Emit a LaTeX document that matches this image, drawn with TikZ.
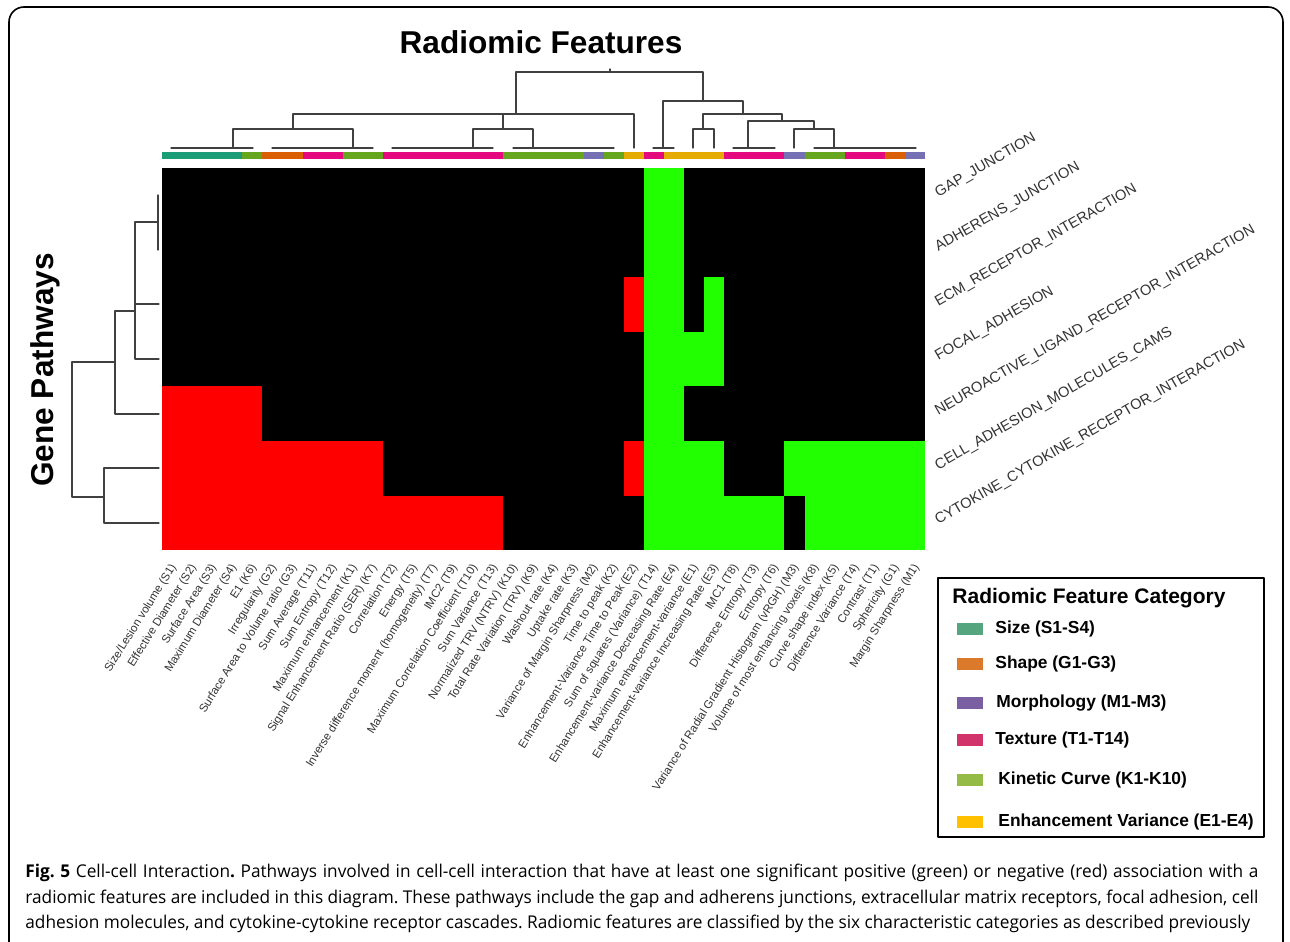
\documentclass[tikz,border=0pt]{standalone}
\usepackage{fontspec}
\setmainfont{Liberation Sans}
\newfontfamily\capfont[FakeStretch=0.98]{Open Sans}
\definecolor{hmred}{RGB}{255,0,0}
\definecolor{hmgreen}{RGB}{34,255,0}
\definecolor{cSize}{HTML}{1B9E77}
\definecolor{cShape}{HTML}{D95F02}
\definecolor{cMorph}{HTML}{7570B3}
\definecolor{cTex}{HTML}{E4097F}
\definecolor{cKin}{HTML}{66A61E}
\definecolor{cEnh}{HTML}{E6AB02}
\definecolor{lSize}{HTML}{55A67F}
\definecolor{lShape}{HTML}{DC7A2C}
\definecolor{lMorph}{HTML}{7A5FA3}
\definecolor{lTex}{HTML}{D1346B}
\definecolor{lKin}{HTML}{93BB45}
\definecolor{lEnh}{HTML}{FFC000}
\definecolor{labgray}{HTML}{333333}
\frenchspacing
\begin{document}
\begin{tikzpicture}[x=0.5pt,y=-0.5pt,line join=round,line cap=round,
	dend/.style={line width=0.6pt,black!75},
	blab/.style={rotate=58,anchor=east,inner sep=0pt,text=labgray,font=\fontsize{5.75}{6}\selectfont},
	rlab/.style={rotate=30,anchor=base west,inner sep=0pt,text=labgray,font=\fontsize{7.35}{8}\selectfont},
	bigtitle/.style={font=\fontsize{15.8}{18}\selectfont\bfseries},
	legitem/.style={anchor=west,inner sep=0pt,font=\fontsize{8.7}{10}\selectfont\bfseries},
	capline/.style={anchor=base west,inner sep=0pt,font=\capfont\fontsize{8.8}{10}\selectfont}]
	\useasboundingbox (0,0) rectangle (1290,942);
	\fill[white] (0,0) rectangle (1290,942);
	%Khung
	\draw[line width=0.8pt,rounded corners=7.5pt] (9,942)--(9,7)--(1283,7)--(1283,942);
	%Bản đồ nhiệt
	\begin{scope}[shift={(162,168)},xscale=20.08,yscale=54.6]
		\fill[black] (0,0) rectangle (38,7);
		\foreach \a/\b/\c/\d in {0/4/5/5,0/5/11/6,0/6/17/7,23/2/24/3,23/5/24/6}
		\fill[hmred] (\a,\b) rectangle (\c,\d);
		\foreach \a/\b/\c/\d in {24/0/26/7,27/2/28/4,26/3/27/4,26/5/28/6,26/6/31/7,31/5/38/6,32/6/38/7}
		\fill[hmgreen] (\a,\b) rectangle (\c,\d);
		\foreach \a/\c/\col in {0/4/cSize,4/5/cKin,5/7/cShape,7/9/cTex,9/11/cKin,11/17/cTex,17/21/cKin,21/22/cMorph,22/23/cKin,23/24/cEnh,24/25/cTex,25/28/cEnh,28/31/cTex,31/32/cMorph,32/34/cKin,34/36/cTex,36/37/cShape,37/38/cMorph}
		\fill[\col] (\a,-0.293) rectangle (\c,-0.165);
	\end{scope}
	%Cây phía trên
	\draw[dend] (171,148)--(253,148) (272,148)--(373,148) (392,148)--(493,148) (513,148)--(614,148)
	(233,148)--(233,129)--(353,129)--(353,148)
	(473,148)--(473,129)--(533,129)--(533,148)
	(293,129)--(293,114)--(634,114)--(634,148)
	(503,129)--(503,114)
	(516,114)--(516,72)--(703,72)--(703,101)
	(610,72)--(610,69)
	(653,148)--(674,148) (663,148)--(663,101)--(743,101)--(743,114)
	(703,129)--(703,114)--(782,114)--(782,121)
	(693,148)--(693,129)--(714,129)--(714,148)
	(748,148)--(748,121)--(814,121)--(814,129)
	(733,148)--(775,148)
	(794,148)--(794,129)--(834,129)--(834,148)
	(814,148)--(916,148);
	%Cây bên trái
	\draw[dend] (158,195)--(158,250) (158,222)--(135,222)--(135,359)--(159,359)
	(135,304)--(159,304)
	(135,311)--(115,311)--(115,414)--(159,414)
	(115,362)--(72,362)--(72,497)--(104,497)
	(159,468)--(104,468)--(104,523)--(159,523);
	%Tiêu đề
	\node[bigtitle] (ttop) at (541,42) {Radiomic Features};
	\node[bigtitle,rotate=90] (tleft) at (45,370) {Gene Pathways};
	%Nhãn cột
	\foreach \t [count=\i] in {{Size/Lesion volume (S1)},{Effective Diameter (S2)},{Surface Area (S3)},{Maximum Diameter (S4)},{E1 (K6)},{Irregularity (G2)},{Surface Area to Volume ratio (G3)},{Sum Average (T11)},{Sum Entropy (T12)},{Maximum enhancement (K1)},{Signal Enhancement Ratio (SER) (K7)},{Correlation (T2)},{Energy (T5)},{Inverse difference moment (homogeneity) (T7)},{IMC2 (T9)},{Maximum Correlation Coefficient (T10)},{Sum Variance (T13)},{Normalized TRV (NTRV) (K10)},{Total Rate Variation (TRV) (K9)},{Washout rate (K4)},{Uptake rate (K3)},{Variance of Margin Sharpness (M2)},{Time to peak (K2)},{Enhancement-Variance Time to Peak (E2)},{Sum of squares (Variance) (T14)},{Enhancement-variance Decreasing Rate (E4)},{Maximum enhancement-variance (E1)},{Enhancement-variance Increasing Rate (E3)},{IMC1 (T8)},{Difference Entropy (T3)},{Entropy (T6)},{Variance of Radial Gradient Histogram (vRGH) (M3)},{Volume of most enhancing voxels (K8)},{Curve shape index (K5)},{Difference Variance (T4)},{Contrast (T1)},{Sphericity (G1)},{Margin Sharpness (M1)}}
	\node[blab] (b\i) at ({162+20.08*(\i-0.5)+2},565) {\t};
	%Nhãn hàng
	\foreach \t [count=\i] in {GAP\_JUNCTION,ADHERENS\_JUNCTION,ECM\_RECEPTOR\_INTERACTION,FOCAL\_ADHESION,NEUROACTIVE\_LIGAND\_RECEPTOR\_INTERACTION,CELL\_ADHESION\_MOLECULES\_CAMS,CYTOKINE\_CYTOKINE\_RECEPTOR\_INTERACTION}
	\node[rlab] (r\i) at (938,{168+54.6*(\i-0.5)+2}) {\t};
	%Chú giải
	\draw[line width=1.1pt] (938,578) rectangle (1264,837);
	\node[anchor=west,inner sep=0pt,font=\fontsize{10.5}{12}\selectfont\bfseries] (legtitle) at (952,598) {Radiomic Feature Category};
	\foreach \c/\t/\y/\tx [count=\i] in {lSize/Size (S1-S4)/629/995,lShape/Shape (G1-G3)/664/995,lMorph/Morphology (M1-M3)/703/996,lTex/Texture (T1-T14)/740/995,lKin/Kinetic Curve (K1-K10)/780/998,lEnh/Enhancement Variance (E1-E4)/822/998}{
		\fill[\c] (957,{\y-6}) rectangle (983,{\y+6});
		\node[legitem] (leg\i) at (\tx,\y) {\t};}
	%Chú thích
	\node[capline] (cap1) at (25,877) {\makebox[616.5pt][s]{{\bfseries Fig. 5} Cell-cell Interaction{\bfseries .} Pathways involved in cell-cell interaction that have at least one significant positive (green) or negative (red) association with a}};
	\node[capline] (cap2) at (25,903) {\makebox[616.5pt][s]{radiomic features are included in this diagram. These pathways include the gap and adherens junctions, extracellular matrix receptors, focal adhesion, cell}};
	\node[capline] (cap3) at (25,928) {\makebox[612.5pt][s]{adhesion molecules, and cytokine-cytokine receptor cascades. Radiomic features are classified by the six characteristic categories as described previously}};
\end{tikzpicture}
\end{document}
